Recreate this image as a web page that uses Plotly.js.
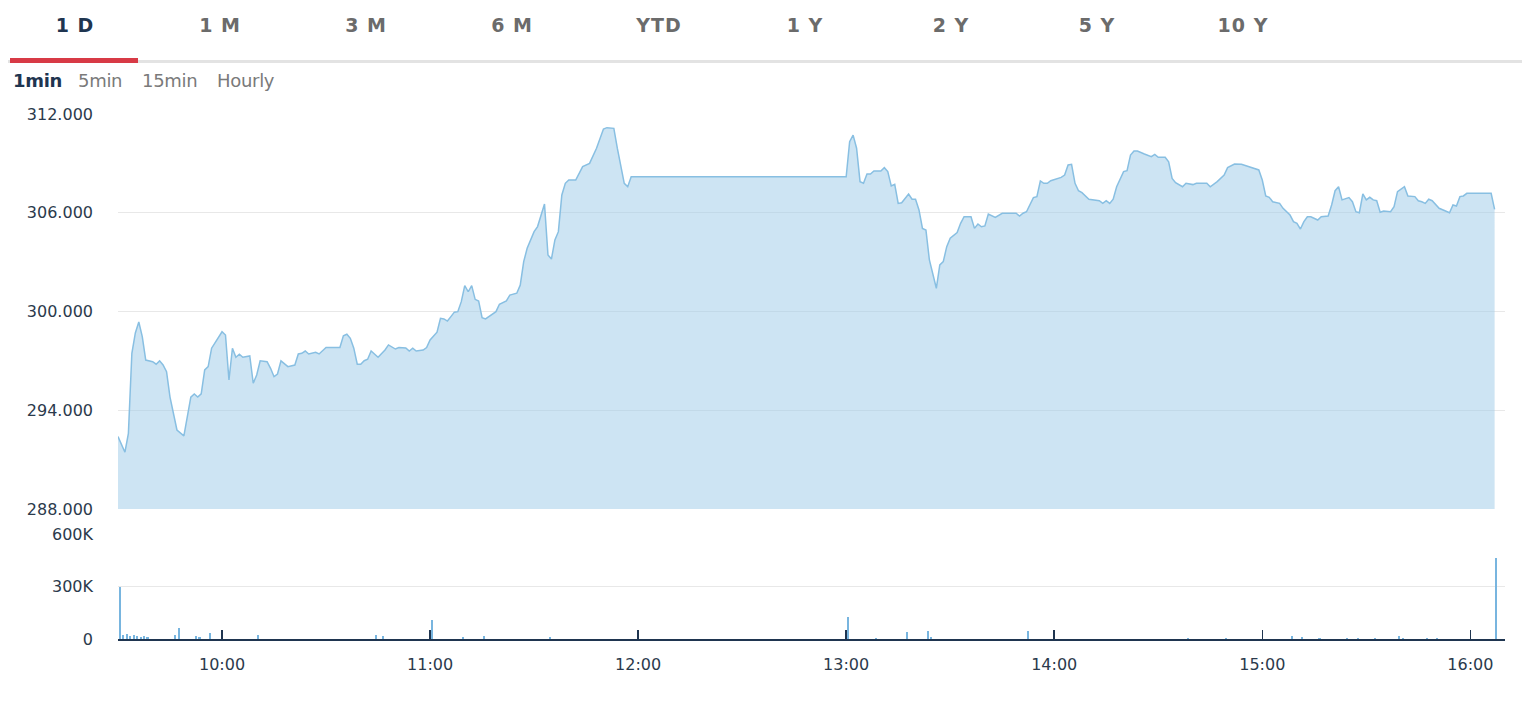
<!DOCTYPE html>
<html>
<head>
<meta charset="utf-8">
<script src="https://cdn.plot.ly/plotly-3.0.1.min.js"></script>
<style>
  html, body { margin:0; padding:0; background:#fff; }
  #wrap { position:relative; width:1532px; height:706px; overflow:hidden; }
  #chart { position:absolute; left:0; top:0; width:1532px; height:706px; }
  .tab { position:absolute; top:14px; transform:translateX(-50%); font-family:"DejaVu Sans", sans-serif; font-weight:bold; font-size:19px; letter-spacing:1px; color:#6b6b6b; white-space:nowrap; }
  .tab.active { color:#1f3550; }
  .sub { position:absolute; top:70px; font-family:"DejaVu Sans", sans-serif; font-size:18px; color:#7a7a7a; white-space:nowrap; letter-spacing:-0.3px; }
  .sub.active { color:#1f3550; font-weight:bold; }
  #rule { position:absolute; left:8px; top:60px; width:1514px; height:3px; background:#e3e3e3; }
  #redbar { position:absolute; left:10px; top:58px; width:128px; height:5px; background:#d83a46; }
</style>
</head>
<body>
<div id="wrap">
  <div id="chart"></div>
  <div id="rule"></div>
  <div id="redbar"></div>
  <div id="tabs"></div>
  <div id="subs"></div>
</div>
<script>
// ---- tab labels ----
const tabLabels = ["1 D","1 M","3 M","6 M","YTD","1 Y","2 Y","5 Y","10 Y"];
const subLabels = ["1min","5min","15min","Hourly"];

// ---- price series (1-minute, session date) ----
const sessionDate = "2021-01-04";
const priceTimes = [
 "09:30","09:32","09:33","09:34","09:35","09:36","09:37","09:38","09:40","09:41",
 "09:42","09:43","09:44","09:45","09:47","09:49","09:51","09:52","09:53","09:54",
 "09:55","09:56","09:57","09:59","10:00","10:01","10:02","10:03","10:04","10:05",
 "10:06","10:08","10:09","10:10","10:11","10:13","10:14","10:15","10:16","10:17",
 "10:19","10:21","10:22","10:23","10:24","10:25","10:27","10:28","10:30","10:34",
 "10:35","10:36","10:37","10:38","10:39","10:40","10:41","10:42","10:43","10:45",
 "10:46","10:47","10:48","10:50","10:51","10:53","10:54","10:55","10:56","10:58",
 "10:59","11:00","11:02","11:03","11:04","11:05","11:06","11:07","11:08","11:09",
 "11:10","11:11","11:12","11:13","11:14","11:15","11:16","11:18","11:19","11:20",
 "11:22","11:23","11:25","11:26","11:27","11:28","11:30","11:31","11:32","11:33",
 "11:34","11:35","11:36","11:37","11:38","11:39","11:40","11:42","11:44","11:46",
 "11:48","11:50","11:51","11:53","11:54","11:55","11:56","11:57","11:58","13:00",
 "13:01","13:02","13:03","13:04","13:05","13:06","13:07","13:08","13:10","13:11",
 "13:12","13:13","13:14","13:15","13:16","13:18","13:19","13:20","13:21","13:22",
 "13:23","13:24","13:26","13:27","13:28","13:29","13:30","13:32","13:33","13:34",
 "13:36","13:37","13:38","13:39","13:40","13:41","13:43","13:45","13:49","13:50",
 "13:51","13:52","13:54","13:55","13:56","13:57","13:58","13:59","14:00","14:02",
 "14:03","14:04","14:05","14:06","14:07","14:08","14:10","14:12","14:13","14:14",
 "14:15","14:16","14:17","14:18","14:20","14:21","14:22","14:23","14:24","14:26",
 "14:27","14:28","14:29","14:30","14:32","14:33","14:34","14:35","14:37","14:38",
 "14:40","14:41","14:44","14:45","14:47","14:49","14:50","14:52","14:54","14:56",
 "14:57","14:59","15:00","15:01","15:02","15:03","15:05","15:06","15:08","15:09",
 "15:10","15:11","15:12","15:13","15:14","15:16","15:17","15:19","15:20","15:21",
 "15:22","15:23","15:25","15:26","15:27","15:28","15:29","15:30","15:31","15:32",
 "15:33","15:34","15:35","15:37","15:38","15:39","15:41","15:42","15:44","15:45",
 "15:46","15:47","15:48","15:49","15:51","15:52","15:54","15:55","15:56","15:57",
 "15:58","15:59","16:06","16:07"
];
const priceValues = [
 292.40,291.45,292.60,297.46,298.70,299.36,298.47,297.05,296.95,296.80,
 297.00,296.75,296.34,294.80,292.80,292.44,294.80,294.99,294.80,295.00,
 296.45,296.65,297.77,298.47,298.77,298.57,295.84,297.77,297.22,297.40,
 297.22,297.30,295.64,296.14,297.00,296.95,296.55,296.04,296.20,297.00,
 296.65,296.75,297.42,297.46,297.60,297.42,297.52,297.42,297.81,297.81,
 298.52,298.62,298.37,297.77,296.80,296.80,297.01,297.10,297.60,297.22,
 297.46,297.66,297.97,297.72,297.81,297.79,297.60,297.77,297.60,297.66,
 297.81,298.27,298.74,299.59,299.55,299.42,299.69,299.96,299.99,300.60,
 301.57,301.20,301.57,300.74,300.64,299.62,299.55,299.83,299.99,300.44,
 300.65,301.00,301.11,301.60,303.03,303.84,304.85,305.16,305.87,306.53,
 303.43,303.19,304.35,304.85,307.08,307.79,307.99,307.99,308.80,309.00,
 309.92,311.09,311.17,311.13,309.92,308.90,307.79,307.58,308.18,308.18,
 310.32,310.72,309.92,307.89,307.79,308.35,308.35,308.54,308.54,308.74,
 308.50,307.63,307.73,306.57,306.61,307.14,306.82,306.82,306.17,305.05,
 304.95,303.13,301.41,302.83,303.03,303.94,304.45,304.80,305.36,305.76,
 305.76,305.05,305.32,305.15,305.20,305.92,305.72,305.97,305.97,305.80,
 305.97,306.06,306.92,306.98,307.93,307.79,307.79,307.95,308.03,308.15,
 308.29,308.90,308.94,307.79,307.34,307.22,306.82,306.78,306.73,306.57,
 306.73,306.57,306.82,307.58,308.50,308.56,309.51,309.75,309.75,309.57,
 309.51,309.41,309.55,309.37,309.37,309.10,308.09,307.83,307.58,307.79,
 307.71,307.79,307.79,307.58,307.89,308.29,308.74,308.96,308.94,308.80,
 308.70,308.60,307.99,307.02,306.94,306.67,306.57,306.27,305.86,305.46,
 305.36,305.01,305.46,305.76,305.76,305.56,305.76,305.80,306.47,307.34,
 307.58,306.78,306.92,306.67,306.06,306.00,307.14,306.78,306.94,306.78,
 306.73,306.03,306.11,306.06,306.37,307.28,307.58,307.02,306.98,306.73,
 306.67,306.57,306.82,306.73,306.27,306.17,306.00,306.47,306.41,306.98,
 307.02,307.18,307.18,306.21
];

// ---- volume series ----
const volumeTimes = [
 "09:30","09:31","09:32","09:33","09:34","09:35","09:36","09:37","09:38","09:46",
 "09:47","09:52","09:53","09:56","10:10","10:44","10:46","11:00","11:09","11:15",
 "11:34","13:00","13:08","13:17","13:23","13:24","13:52","14:38","14:49","15:08",
 "15:11","15:16","15:24","15:27","15:32","15:39","15:40","15:47","15:50","16:07"
];
const volumeValues = [
 295000,22000,30000,18000,25000,15000,12000,20000,14000,25000,
 62000,20000,12000,33000,25000,25000,18000,110000,12000,18000,
 10000,128000,8000,38000,47000,10000,45000,8000,8000,20000,
 10000,8000,8000,8000,8000,15000,8000,8000,8000,465000
];

// ---- axis ticks ----
const priceTicks = [288, 294, 300, 306, 312];
const volumeTicks = [0, 300000, 600000];
const volumeTickText = ["0", "300K", "600K"];
const timeTicks = ["10:00","11:00","12:00","13:00","14:00","15:00","16:00"];
const timeRange = ["09:30", "16:10"];

// ---- build header ----
const tabCenters = [75,220,366,512,659,805,951,1097,1243];
const tabsEl = document.getElementById('tabs');
tabLabels.forEach((t,i)=>{
  const d=document.createElement('div');
  d.className='tab'+(i===0?' active':'');
  d.style.left=tabCenters[i]+'px';
  d.textContent=t;
  tabsEl.appendChild(d);
});
const subLefts=[13,78,142,217];
const subsEl=document.getElementById('subs');
subLabels.forEach((t,i)=>{
  const d=document.createElement('div');
  d.className='sub'+(i===0?' active':'');
  d.style.left=subLefts[i]+'px';
  d.textContent=t;
  subsEl.appendChild(d);
});

// ---- chart ----
const ts = s => sessionDate + " " + s;
const tickFont = {family:"DejaVu Sans, sans-serif", size:16, color:"#2b3a4c"};

const priceTrace = {
  type:'scatter', mode:'lines',
  x: priceTimes.map(ts), y: priceValues,
  xaxis:'x', yaxis:'y',
  line:{color:'#88bfe2', width:1.5},
  fill:'tozeroy', fillcolor:'rgba(160,204,232,0.52)',
  hoverinfo:'skip'
};
const volTrace = {
  type:'bar',
  x: volumeTimes.map(ts), y: volumeValues,
  xaxis:'x', yaxis:'y2',
  xperiod: 60000, xperiodalignment: 'middle',
  width: 36000,
  marker:{color:'#78b5df'},
  hoverinfo:'skip'
};

const layout = {
  width:1532, height:706,
  margin:{l:118, r:27, t:114, b:67},
  paper_bgcolor:'#fff', plot_bgcolor:'#fff',
  showlegend:false,
  bargap:0,
  xaxis:{
    type:'date', anchor:'y2',
    range: timeRange.map(ts),
    tickvals: timeTicks.map(ts), ticktext: timeTicks,
    ticks:'inside', ticklen:9, tickwidth:1.5, tickcolor:'#1f3550',
    showline:true, linecolor:'#1f3550', linewidth:2,
    showgrid:false, zeroline:false,
    tickfont: tickFont, ticklabelstandoff:10
  },
  yaxis:{
    domain:[0.2476, 1],
    range:[288, 312],
    tickvals: priceTicks, tickformat:'.3f',
    showgrid:true, gridcolor:'#e8e8e8', gridwidth:1,
    zeroline:false, showline:false, ticks:'',
    tickfont: tickFont, ticklabelstandoff:24
  },
  yaxis2:{
    domain:[0, 0.2],
    range:[0, 600000],
    tickvals: volumeTicks, ticktext: volumeTickText,
    showgrid:true, gridcolor:'#e8e8e8', gridwidth:1,
    zeroline:false, showline:false, ticks:'',
    tickfont: tickFont, ticklabelstandoff:24
  }
};

Plotly.newPlot('chart', [priceTrace, volTrace], layout, {staticPlot:true, displayModeBar:false});
</script>
</body>
</html>
